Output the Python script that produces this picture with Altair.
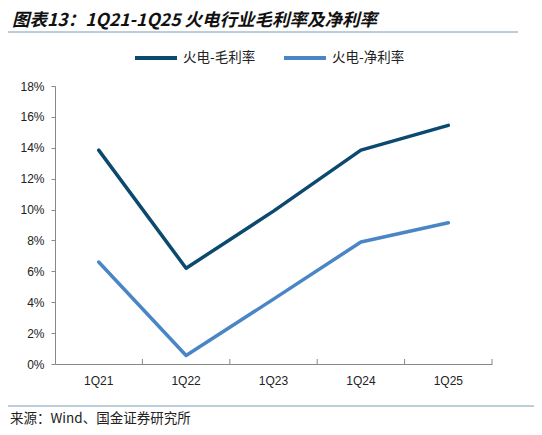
import pandas as pd
import altair as alt

# 数据：火电行业毛利率、净利率（%）
quarters = ["1Q21", "1Q22", "1Q23", "1Q24", "1Q25"]
gross_margin = [13.85, 6.2, 9.9, 13.85, 15.45]
net_margin = [6.6, 0.55, 4.2, 7.9, 9.15]
series_names = ["火电-毛利率", "火电-净利率"]
series_colors = ["#0B4A6E", "#4A86C6"]

title_text = "图表13：1Q21-1Q25 火电行业毛利率及净利率"
source_text = "来源：Wind、国金证券研究所"

cjk = "Noto Sans CJK SC"
latin = "Liberation Sans"

df = pd.DataFrame({
    "q": quarters * 2,
    "v": gross_margin + net_margin,
    "s": [series_names[0]] * len(quarters) + [series_names[1]] * len(quarters),
})

W, H = 437, 278

x_scale = alt.Scale(type="band", domain=quarters, paddingInner=0, paddingOuter=0)

lines = alt.Chart(df).mark_line(strokeWidth=3.5, strokeCap="round", strokeJoin="round").encode(
    x=alt.X("q:N", scale=x_scale, bandPosition=0.5,
            axis=alt.Axis(title=None, labelAngle=0, ticks=False, labelPadding=11,
                          domainColor="#888", labelFont=latin, labelFontSize=12,
                          labelColor="#222")),
    y=alt.Y("v:Q", scale=alt.Scale(domain=[0, 18]),
            axis=alt.Axis(title=None, values=list(range(0, 19, 2)),
                          labelExpr="datum.value + '%'", grid=False,
                          tickSize=4, tickColor="#888", domainColor="#888",
                          labelPadding=7, labelFont=latin, labelFontSize=12,
                          labelColor="#222")),
    color=alt.Color("s:N", scale=alt.Scale(domain=series_names, range=series_colors),
                    legend=alt.Legend(title=None, orient="none", legendX=78, legendY=-51,
                                      direction="horizontal", symbolType="stroke",
                                      symbolSize=1764, symbolStrokeWidth=4,
                                      labelFont=cjk, labelFontSize=13.5, labelColor="#222",
                                      labelOffset=4, columnPadding=20)),
)

# x轴刻度：分类边界（1..5），向上
tick_pos = [1, 2, 3, 4, 5]
ticks = alt.Chart(pd.DataFrame({"b": tick_pos})).mark_rule(color="#888").encode(
    x=alt.X("b:Q", scale=alt.Scale(domain=[0, len(quarters)]), axis=None),
    y=alt.value(H - 5),
    y2=alt.value(H),
)

title = alt.Chart(pd.DataFrame({"t": [title_text]})).mark_text(
    align="left", baseline="middle", font=cjk, fontSize=17.5, fontWeight="bold",
    fontStyle="italic", color="#111"
).encode(x=alt.value(-43), y=alt.value(-65), text="t:N")

top_line = alt.Chart(pd.DataFrame({"a": [0]})).mark_rule(color="#7A9BB5", strokeWidth=1).encode(
    x=alt.value(-47), x2=alt.value(463), y=alt.value(-54)
)

bottom_line = alt.Chart(pd.DataFrame({"a": [0]})).mark_rule(color="#7A9BB5", strokeWidth=1).encode(
    x=alt.value(-47), x2=alt.value(482), y=alt.value(320)
)

source = alt.Chart(pd.DataFrame({"t": [source_text]})).mark_text(
    align="left", baseline="middle", font=cjk, fontSize=13.5, color="#222"
).encode(x=alt.value(-45), y=alt.value(333), text="t:N")

chart = alt.layer(lines, ticks, title, top_line, bottom_line, source).resolve_scale(
    x="independent"
).properties(
    width=W, height=H,
    background="white",
    autosize=alt.AutoSizeParams(type="none"),
    padding={"left": 47, "top": 78, "right": 42, "bottom": 63},
).configure_view(stroke=None)

chart.save("out.html", embed_options={"renderer": "svg", "actions": False})
